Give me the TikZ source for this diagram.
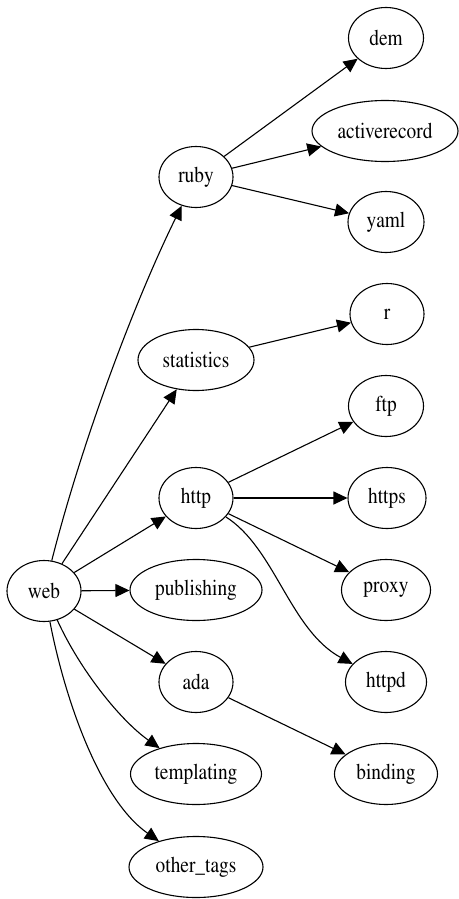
\documentclass[tikz,border=0pt]{standalone}
\usepackage[T1]{fontenc}
\usepackage{times}
\usepackage{graphicx}
\newcommand{\gvtext}[1]{\scalebox{0.86}[1]{#1}}
\usetikzlibrary{shapes.geometric,arrows.meta}
\begin{document}
\begin{tikzpicture}[x=1pt,y=-1pt,
  gnode/.style={ellipse,draw,line width=1.1pt,inner sep=0pt,minimum height=61pt,
    font=\rmfamily\fontsize{22.5}{26}\selectfont},
  edge/.style={line width=1.1pt,-{Triangle[length=14pt,width=13pt]}}]
\useasboundingbox (0,0) rectangle (458,899);
\node[gnode,minimum width=74pt] (web) at (44,591) {\gvtext{web}};
\node[gnode,minimum width=74pt] (ruby) at (196,177) {\gvtext{ruby}};
\node[gnode,minimum width=75pt] (dem) at (386,38) {\gvtext{dem}};
\node[gnode,minimum width=146pt] (activerecord) at (385,131) {\gvtext{activerecord}};
\node[gnode,minimum width=76pt] (yaml) at (386,222) {\gvtext{yaml}};
\node[gnode,minimum width=116pt] (statistics) at (196,360) {\gvtext{statistics}};
\node[gnode,minimum width=74pt] (r) at (387,314) {\gvtext{r}};
\node[gnode,minimum width=74pt] (http) at (196,498) {\gvtext{http}};
\node[gnode,minimum width=75pt] (ftp) at (386,406) {\gvtext{ftp}};
\node[gnode,minimum width=78pt] (https) at (387,498) {\gvtext{https}};
\node[gnode,minimum width=132pt] (publishing) at (196,590) {\gvtext{publishing}};
\node[gnode,minimum width=89pt] (proxy) at (386,590) {\gvtext{proxy}};
\node[gnode,minimum width=74pt] (ada) at (196,682) {\gvtext{ada}};
\node[gnode,minimum width=81pt] (httpd) at (386,682) {\gvtext{httpd}};
\node[gnode,minimum width=131pt] (templating) at (196,774) {\gvtext{templating}};
\node[gnode,minimum width=103pt] (binding) at (386,774) {\gvtext{binding}};
\node[gnode,minimum width=134pt] (other_tags) at (196,867) {\gvtext{other\_tags}};

\draw[edge] (web) .. controls (85,430) and (140,290) .. (ruby);
\draw[edge] (web) -- (statistics);
\draw[edge] (web) -- (http);
\draw[edge] (web) -- (publishing);
\draw[edge] (web) -- (ada);
\draw[edge] (web) .. controls (80,670) and (120,720) .. (templating);
\draw[edge] (web) .. controls (65,700) and (100,800) .. (other_tags);
\draw[edge] (ruby) -- (dem);
\draw[edge] (ruby) -- (activerecord);
\draw[edge] (ruby) -- (yaml);
\draw[edge] (statistics) -- (r);
\draw[edge] (http) -- (ftp);
\draw[edge] (http) -- (https);
\draw[edge] (http) -- (proxy);
\draw[edge] (http) .. controls (275,548) and (290,630) .. (httpd);
\draw[edge] (ada) -- (binding);
\end{tikzpicture}
\end{document}
